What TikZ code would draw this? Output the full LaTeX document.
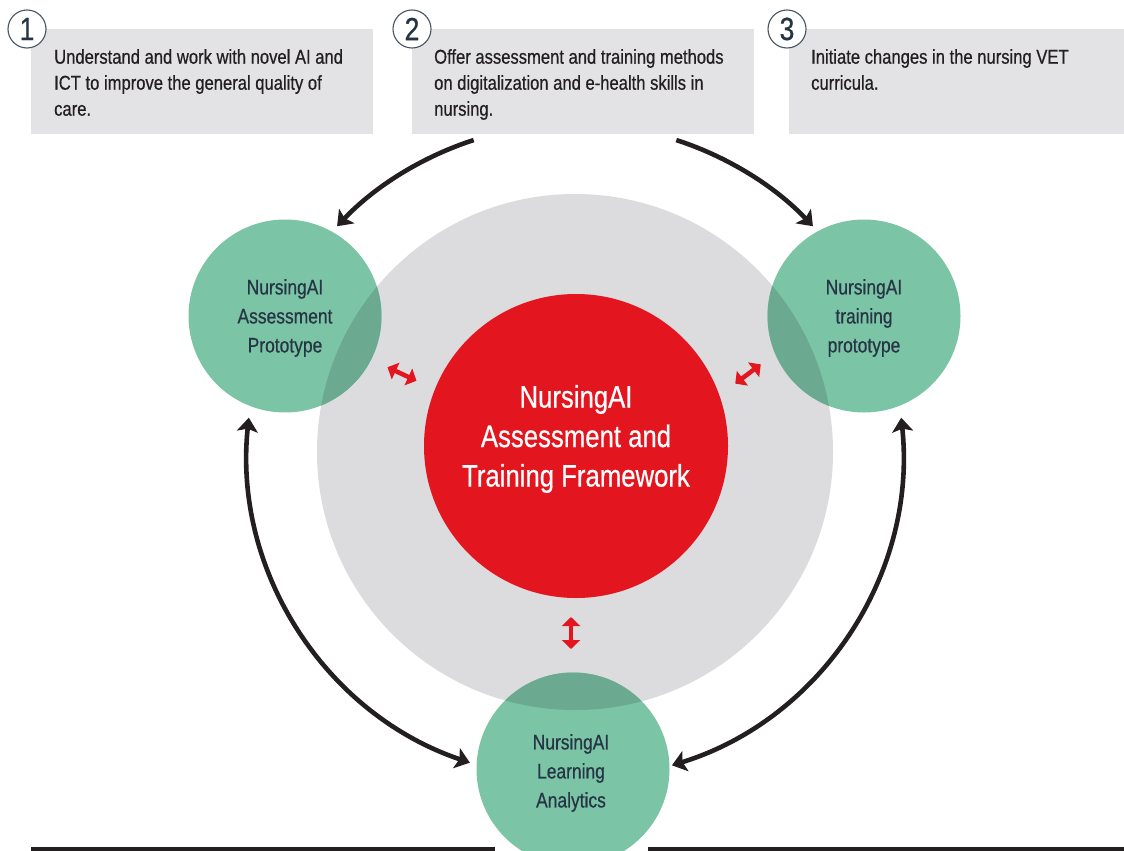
\documentclass[tikz,border=0pt]{standalone}
\usepackage{fontspec}
\setmainfont{Liberation Sans}[FakeStretch=0.83,FakeBold=0.6]
\usetikzlibrary{arrows.meta,calc}
\definecolor{boxgray}{HTML}{E3E3E5}
\definecolor{ringgray}{HTML}{DCDCDE}
\definecolor{nugreen}{HTML}{7CC4A6}
\definecolor{nugreendk}{HTML}{6BA991}
\definecolor{nured}{HTML}{E3151E}
\definecolor{slate}{HTML}{263544}
\definecolor{ink}{HTML}{231F20}
\begin{document}
\begin{tikzpicture}[x=1pt,y=-1pt,
  infobox/.style={fill=boxgray, draw=none, inner sep=0, outer sep=0, anchor=north west, minimum height=105pt},
  boxtext/.style={anchor=north west, align=left, inner sep=0, font=\fontsize{20}{26}\selectfont, text=ink},
  numcircle/.style={circle, draw=slate!85, line width=1.1pt, fill=white, minimum size=38pt, inner sep=0, font=\fontsize{32}{32}\selectfont, text=slate},
  greencircle/.style={circle, fill=nugreen, minimum size=193pt, inner sep=0, outer sep=0},
  greentext/.style={align=center, inner sep=0, text=slate, font=\fontsize{21}{29}\selectfont},
  bigarrow/.style={draw=ink, line width=4.6pt, -{Stealth[length=14pt,width=21pt,inset=3pt]}},
  bigdouble/.style={draw=ink, line width=4.6pt, {Stealth[length=14pt,width=21pt,inset=3pt]}-{Stealth[length=14pt,width=21pt,inset=3pt]}},
  reddouble/.style={draw=nured, line width=4.5pt, {Triangle[length=9pt,width=18pt]}-{Triangle[length=9pt,width=18pt]}},
  rule/.style={fill=ink}
]
\clip (0,0) rectangle (1124,851);
\fill[white] (0,0) rectangle (1124,851);

% top boxes
\node[infobox, minimum width=342pt] (box1) at (31,29) {};
\node[infobox, minimum width=342pt] (box2) at (412,29) {};
\node[infobox, minimum width=340pt] (box3) at (789,29) {};
\node[boxtext] (t1) at (54,49) {Understand and work with novel AI and\\ICT to improve the general quality of\\care.};
\node[boxtext] (t2) at (434,49) {Offer assessment and training methods\\on digitalization and e-health skills in\\nursing.};
\node[boxtext] (t3) at (811,49) {Initiate changes in the nursing VET\\curricula.};
\node[numcircle] (n1) at (27,29) {1};
\node[numcircle] (n2) at (412,29) {2};
\node[numcircle] (n3) at (787,29) {3};

% central circles
\coordinate (C) at (575,452);
\node[circle, fill=ringgray, minimum size=516pt, inner sep=0] (ring) at (C) {};
\node[circle, fill=nured, minimum size=304pt, inner sep=0] (core) at (576,446) {};
\node[align=center, text=white, font=\fontsize{31}{39.5}\selectfont, inner sep=0] (coretext) at (576,439) {NursingAI\\Assessment and\\Training Framework};

% green circles
\node[greencircle] (ga) at (285,316) {};
\node[greencircle] (gt) at (864,316) {};
\node[greencircle] (gl) at (573,769) {};
\begin{scope}
  \clip (C) circle (258);
  \fill[nugreendk] (ga.center) circle (96.5);
  \fill[nugreendk] (gt.center) circle (96.5);
  \fill[nugreendk] (gl.center) circle (96.5);
\end{scope}
\node[greentext] (gat) at ($(ga.center)+(0,2)$) {NursingAI\\Assessment\\Prototype};
\node[greentext] (gtt) at ($(gt.center)+(0,2)$) {NursingAI\\training\\prototype};
\node[greentext] (glt) at ($(gl.center)+(-2,4)$) {NursingAI\\Learning\\Analytics};

% black curved arrows (arcs concentric with the ring)
\coordinate (a1) at ($(C)+(-108:328)$);
\coordinate (a2) at ($(C)+(-72:328)$);
\coordinate (a3) at ($(C)+(186:328)$);
\coordinate (a4) at ($(C)+(-6:328)$);
\draw[bigarrow] (a1) arc[start angle=-108, end angle=-136.5, radius=328];
\draw[bigarrow] (a2) arc[start angle=-72, end angle=-43.5, radius=328];
\draw[bigdouble] (a3) arc[start angle=186, end angle=108.7, radius=328];
\draw[bigdouble] (a4) arc[start angle=-6, end angle=72.8, radius=328];

% red double arrows
\coordinate (rl) at (402,374);
\coordinate (rr) at (748,374);
\coordinate (rb) at (571,633);
\draw[reddouble] ($(rl)+(205:16)$) -- ($(rl)+(25:16)$);
\draw[reddouble] ($(rr)+(143:16)$) -- ($(rr)+(-37:16)$);
\draw[reddouble] ($(rb)+(0,-16)$) -- ($(rb)+(0,16)$);

% bottom rules
\fill[rule] (31,847) rectangle (495,851);
\fill[rule] (648,847) rectangle (1124,851);
\end{tikzpicture}
\end{document}
